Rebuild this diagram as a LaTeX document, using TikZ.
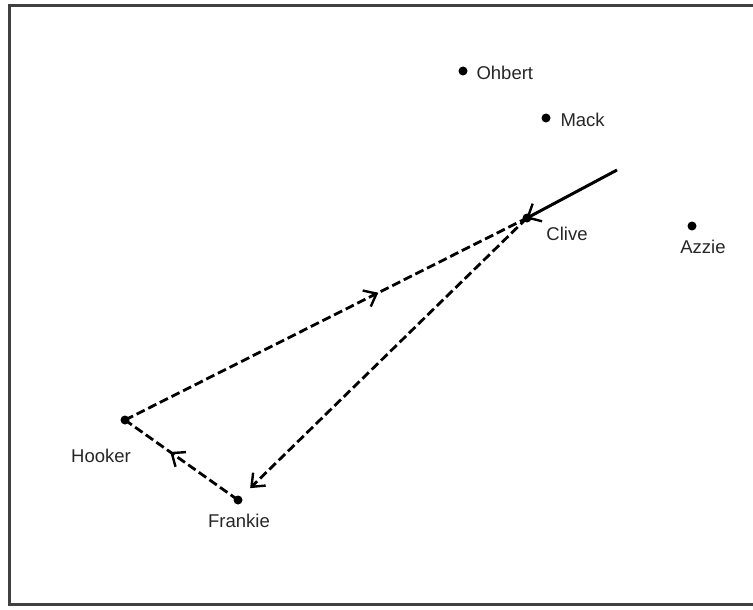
\documentclass[tikz,border=0pt]{standalone}
\usepackage{fontspec}
\setmainfont{Liberation Sans}
\usetikzlibrary{arrows.meta,decorations.markings}
\begin{document}
\begin{tikzpicture}[x=1pt,y=-1pt,
  pt/.style={circle,fill=black,inner sep=0pt,minimum size=9pt},
  lbl/.style={font=\fontsize{18.5}{18.5}\selectfont,text=black!85},
  dashlink/.style={line width=2.8pt,dash pattern=on 9pt off 4pt},
  midarrow/.style={postaction={decorate},decoration={markings,mark=at position #1 with {\arrow[solid]{Straight Barb[length=11pt,width=18pt,line width=2.4pt]}}}}]
\useasboundingbox (0,0) rectangle (753,610);
\draw[line width=3pt,black!75] (753,6) -- (9,6) -- (9,604) -- (753,604);
\node[pt] (ohbert) at (463,71) {};
\node[pt] (mack) at (546,118) {};
\node[pt] (clive) at (527,218) {};
\node[pt] (azzie) at (692,226) {};
\node[pt] (hooker) at (125,420) {};
\node[pt] (frankie) at (238,500) {};
\coordinate (src) at (617,170);
\node[lbl,anchor=west] (lo) at (473,73) {Ohbert};
\node[lbl,anchor=west] (lm) at (557,120) {Mack};
\node[lbl] (lc) at (567,234) {Clive};
\node[lbl] (la) at (703,247) {Azzie};
\node[lbl] (lh) at (101,456) {Hooker};
\node[lbl] (lf) at (239,521) {Frankie};
\draw[line width=3pt,-{Straight Barb[length=11pt,width=20pt,line width=2.4pt]},shorten >=-1pt] (src) -- (clive.center);
\draw[dashlink,midarrow=0.63] (hooker.center) -- (clive.center);
\draw[dashlink,-{Straight Barb[length=11pt,width=18pt,line width=2.4pt]},shorten >=17pt] (clive.center) -- (frankie.center);
\draw[dashlink,midarrow=0.6] (frankie.center) -- (hooker.center);
\end{tikzpicture}
\end{document}
